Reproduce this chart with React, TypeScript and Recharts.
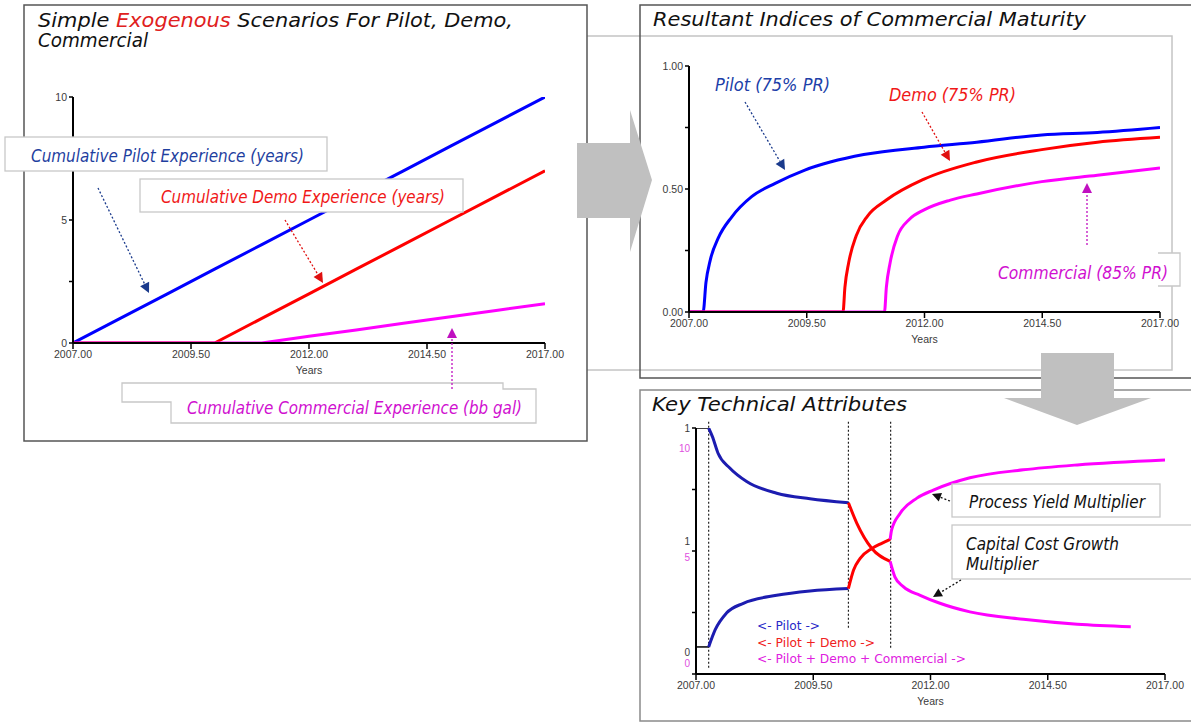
import React from 'react';
import { LineChart, Line, XAxis, YAxis, ReferenceLine } from 'recharts';

// ---- panel 1: simple exogenous experience scenarios
const expYears = [2007, 2008, 2009, 2010, 2011, 2012, 2013, 2014, 2015, 2016, 2017];
const pilotExp = [0, 1, 2, 3, 4, 5, 6, 7, 8, 9, 10];
const demoExp = [0, 0, 0, 0, 1, 2, 3, 4, 5, 6, 7];
const commercialExp = [0, 0, 0, 0, 0, 0.27, 0.53, 0.8, 1.07, 1.33, 1.6];

// ---- panel 2: indices of commercial maturity
const pilotIdxYears = [2007, 2007.3, 2007.36, 2007.45, 2007.62, 2007.91, 2008.33, 2008.83, 2009.46, 2010.71, 2011.99, 2013.11, 2014.49, 2015.67, 2017];
const pilotIdx = [0, 0, 0.12, 0.21, 0.3, 0.387, 0.469, 0.523, 0.577, 0.64, 0.67, 0.69, 0.72, 0.73, 0.75];
const demoIdxYears = [2007, 2010.27, 2010.31, 2010.39, 2010.55, 2010.79, 2011.19, 2011.99, 2013.11, 2014.49, 2015.67, 2017];
const demoIdx = [0, 0, 0.1, 0.2, 0.31, 0.39, 0.455, 0.54, 0.61, 0.66, 0.69, 0.71];
const commIdxYears = [2007, 2011.15, 2011.19, 2011.27, 2011.43, 2011.67, 2011.99, 2012.55, 2013.11, 2014.49, 2015.67, 2017];
const commIdx = [0, 0, 0.1, 0.2, 0.31, 0.375, 0.415, 0.455, 0.48, 0.53, 0.556, 0.585];

// ---- panel 3: key technical attributes (plot units 0..4)
const phaseStarts = [2007.27, 2010.25, 2011.15];
const phaseTops = [4.1, 4.1, 4.1];
const phaseBottoms = [0.07, 0.75, 0.42];
const preYears = [2007, 2007.27];
const preYield = [4, 4];
const preCost = [0.44, 0.44];
const costPilotYears = [2007.27, 2007.35, 2007.47, 2007.72, 2008.08, 2008.72, 2009.43, 2010.25];
const costPilot = [4.0, 3.86, 3.59, 3.35, 3.13, 2.94, 2.85, 2.785];
const costDemoYears = [2010.25, 2010.43, 2010.75, 2011.14];
const costDemo = [2.785, 2.45, 2.04, 1.83];
const costCommYears = [2011.14, 2011.24, 2011.42, 2011.78, 2012.2, 2012.84, 2013.98, 2015.13, 2016.27];
const costComm = [1.83, 1.58, 1.42, 1.28, 1.15, 1.01, 0.89, 0.81, 0.77];
const yieldPilotYears = [2007.27, 2007.41, 2007.65, 2008.01, 2008.72, 2009.43, 2010.25];
const yieldPilot = [0.44, 0.72, 0.99, 1.15, 1.28, 1.35, 1.39];
const yieldDemoYears = [2010.25, 2010.36, 2010.5, 2010.75, 2010.96, 2011.14];
const yieldDemo = [1.39, 1.69, 1.88, 2.04, 2.125, 2.19];
const yieldCommYears = [2011.14, 2011.17, 2011.35, 2011.71, 2012.06, 2012.84, 2013.98, 2015.13, 2017];
const yieldComm = [2.19, 2.34, 2.61, 2.86, 2.99, 3.19, 3.32, 3.4, 3.48];

const yearTicks = [2007, 2009.5, 2012, 2014.5, 2017];
const expTicks = [0, 2.5, 5, 7.5, 10];
const idxTicks = [0, 0.25, 0.5, 0.75, 1];
const techTicks = [0, 1, 2, 3, 4];

const BLUE = '#0000ff';
const RED = '#ff0000';
const MAG = '#ff00ff';
const NAVY = '#1c1cb0';

const rows = (xs: number[], ys: number[]) => xs.map((year, i) => ({ year, v: ys[i] }));

const tickFont = { fontSize: 10.5, fill: '#3a3a3a', fontFamily: 'Liberation Sans, Arial, sans-serif' };

const yearAxis = {
  type: 'number' as const,
  dataKey: 'year',
  domain: [2007, 2017],
  ticks: yearTicks,
  allowDataOverflow: true,
  tickFormatter: (v: number) => v.toFixed(2),
  axisLine: { stroke: '#000', strokeWidth: 2 },
  tickLine: { stroke: '#000', strokeWidth: 1.5 },
  tickSize: 6,
  tick: tickFont,
  height: 36,
  label: { value: 'Years', position: 'insideBottom' as const, offset: 5, ...tickFont },
};

const valueAxis = {
  type: 'number' as const,
  allowDataOverflow: true,
  axisLine: { stroke: '#000', strokeWidth: 2 },
  tickLine: { stroke: '#000', strokeWidth: 1.5 },
  tickSize: 4,
  tick: tickFont,
};

function TechTick(props: any) {
  const { x, y, payload } = props;
  const v = payload.value;
  const grey = '#3a3a3a';
  const pink = '#e050e0';
  const font = { fontSize: 10, fontFamily: 'Liberation Sans, Arial, sans-serif', textAnchor: 'end' as const };
  if (v === 4) {
    return (
      <g {...font}>
        <text x={x} y={y + 4} fill={grey}>1</text>
        <text x={x} y={y + 24} fill={pink}>10</text>
      </g>
    );
  }
  if (v === 2) {
    return (
      <g {...font}>
        <text x={x} y={y - 6} fill={grey}>1</text>
        <text x={x} y={y + 10} fill={pink}>5</text>
      </g>
    );
  }
  if (v === 0) {
    return (
      <g {...font}>
        <text x={x} y={y - 18} fill={grey}>0</text>
        <text x={x} y={y - 7} fill={pink}>0</text>
      </g>
    );
  }
  return null;
}

function DotArrow({ x1, y1, x2, y2, color, head = 10 }: any) {
  const dx = x2 - x1;
  const dy = y2 - y1;
  const len = Math.hypot(dx, dy);
  const ux = dx / len;
  const uy = dy / len;
  const bx = x2 - ux * head;
  const by = y2 - uy * head;
  const w = head * 0.5;
  return (
    <g>
      <line x1={x1} y1={y1} x2={bx} y2={by} stroke={color} strokeWidth={1.3} strokeDasharray="2 2" />
      <polygon points={`${x2},${y2} ${bx - uy * w},${by + ux * w} ${bx + uy * w},${by - ux * w}`} fill={color} />
    </g>
  );
}

const italic = { fontFamily: 'DejaVu Sans, Verdana, sans-serif', fontStyle: 'italic' as const };

export default function App() {
  const abs = (left: number, top: number, z: number): React.CSSProperties => ({ position: 'absolute', left, top, zIndex: z });

  return (
    <div style={{ position: 'absolute', left: 0, top: 0, width: 1191, height: 723, background: '#fff', overflow: 'hidden' }}>
      {/* frames and big grey arrows */}
      <svg width={1191} height={723} style={abs(0, 0, 0)}>
        <rect x={540} y={36} width={632} height={334} fill="none" stroke="#c4c4c4" strokeWidth={1.5} />
        <rect x={640} y={5} width={600} height={373} fill="none" stroke="#555" strokeWidth={1.5} />
        <rect x={640} y={390} width={600} height={331} fill="none" stroke="#8a8a8a" strokeWidth={1.5} />
        <rect x={24} y={5} width={563} height={436} fill="#fff" stroke="#555" strokeWidth={1.5} />
        <polygon points="577,143 630,143 630,110 652,180 630,252 630,218 577,218" fill="#c0c0c0" />
        <polygon points="1041,353 1114,353 1114,398 1151,398 1077,425 1004,398 1041,398" fill="#c0c0c0" />

        <text x={38} y={26.5} fontSize={19} fill="#111" textLength={475} lengthAdjust="spacingAndGlyphs" {...italic}>
          <tspan>Simple </tspan>
          <tspan fill="#e02020">Exogenous</tspan>
          <tspan> Scenarios For Pilot, Demo,</tspan>
        </text>
        <text x={38} y={47} fontSize={19} fill="#111" textLength={110} lengthAdjust="spacingAndGlyphs" {...italic}>Commercial</text>
        <text x={653} y={26} fontSize={20} fill="#111" textLength={433} lengthAdjust="spacingAndGlyphs" {...italic}>Resultant Indices of Commercial Maturity</text>
        <text x={652} y={411} fontSize={20} fill="#111" textLength={255} lengthAdjust="spacingAndGlyphs" {...italic}>Key Technical Attributes</text>
      </svg>

      {/* panel 1 chart */}
      <div style={abs(43, 87, 1)}>
        <LineChart width={522} height={292} margin={{ top: 10, right: 20, bottom: 0, left: 0 }}>
          <XAxis {...yearAxis} />
          <YAxis {...valueAxis} domain={[0, 10]} ticks={expTicks} width={30}
            tickFormatter={(v: number) => (v % 5 === 0 ? String(v) : '')} />
          <Line data={rows(expYears, pilotExp)} dataKey="v" type="linear" stroke={BLUE} strokeWidth={3} dot={false} isAnimationActive={false} />
          <Line data={rows(expYears, demoExp)} dataKey="v" type="linear" stroke={RED} strokeWidth={3} dot={false} isAnimationActive={false} />
          <Line data={rows(expYears, commercialExp)} dataKey="v" type="linear" stroke={MAG} strokeWidth={3} dot={false} isAnimationActive={false} />
        </LineChart>
      </div>

      {/* panel 2 chart */}
      <div style={abs(654, 56, 1)}>
        <LineChart width={526} height={292} margin={{ top: 10, right: 20, bottom: 0, left: 0 }}>
          <XAxis {...yearAxis} />
          <YAxis {...valueAxis} domain={[0, 1]} ticks={idxTicks} width={35}
            tickFormatter={(v: number) => (v === 0 || v === 0.5 || v === 1 ? v.toFixed(2) : '')} />
          <Line data={rows(pilotIdxYears, pilotIdx)} dataKey="v" type="monotone" stroke={BLUE} strokeWidth={3} dot={false} isAnimationActive={false} />
          <Line data={rows(demoIdxYears, demoIdx)} dataKey="v" type="monotone" stroke={RED} strokeWidth={3} dot={false} isAnimationActive={false} />
          <Line data={rows(commIdxYears, commIdx)} dataKey="v" type="monotone" stroke={MAG} strokeWidth={3} dot={false} isAnimationActive={false} />
        </LineChart>
      </div>

      {/* panel 3 chart */}
      <div style={abs(666, 418, 1)}>
        <LineChart width={519} height={292} margin={{ top: 10, right: 20, bottom: 0, left: 0 }}>
          <XAxis {...yearAxis} />
          <YAxis {...valueAxis} domain={[0, 4]} ticks={techTicks} width={30} tick={<TechTick />} />
          {phaseStarts.map((yr, i) => (
            <ReferenceLine key={yr} ifOverflow="visible" stroke="#222" strokeWidth={1.2} strokeDasharray="2 2"
              segment={[{ x: yr, y: phaseTops[i] }, { x: yr, y: phaseBottoms[i] }]} />
          ))}
          <Line data={rows(preYears, preYield)} dataKey="v" type="linear" stroke="#000" strokeWidth={1.5} dot={false} isAnimationActive={false} />
          <Line data={rows(preYears, preCost)} dataKey="v" type="linear" stroke="#000" strokeWidth={1.5} dot={false} isAnimationActive={false} />
          <Line data={rows(costPilotYears, costPilot)} dataKey="v" type="monotone" stroke={NAVY} strokeWidth={3} dot={false} isAnimationActive={false} />
          <Line data={rows(yieldPilotYears, yieldPilot)} dataKey="v" type="monotone" stroke={NAVY} strokeWidth={3} dot={false} isAnimationActive={false} />
          <Line data={rows(costDemoYears, costDemo)} dataKey="v" type="monotone" stroke={RED} strokeWidth={3} dot={false} isAnimationActive={false} />
          <Line data={rows(yieldDemoYears, yieldDemo)} dataKey="v" type="monotone" stroke={RED} strokeWidth={3} dot={false} isAnimationActive={false} />
          <Line data={rows(costCommYears, costComm)} dataKey="v" type="monotone" stroke={MAG} strokeWidth={3} dot={false} isAnimationActive={false} />
          <Line data={rows(yieldCommYears, yieldComm)} dataKey="v" type="monotone" stroke={MAG} strokeWidth={3} dot={false} isAnimationActive={false} />
        </LineChart>
      </div>

      {/* annotation boxes, labels, pointer arrows */}
      <svg width={1191} height={723} style={{ ...abs(0, 0, 2), pointerEvents: 'none' }}>
        <rect x={5} y={137} width={322} height={34} fill="#fff" stroke="#c8c8c8" strokeWidth={1.3} />
        <text x={31} y={162} fontSize={18} fill="#1f3f9f" textLength={273} lengthAdjust="spacingAndGlyphs" {...italic}>Cumulative Pilot Experience (years)</text>
        <rect x={140} y={179} width={323} height={33} fill="#fff" stroke="#c8c8c8" strokeWidth={1.3} />
        <text x={161} y={203} fontSize={18} fill="#f01818" textLength={284} lengthAdjust="spacingAndGlyphs" {...italic}>Cumulative Demo Experience (years)</text>
        <polygon points="122,383 503,383 503,389 536,389 536,423 171,423 171,402 122,402" fill="#fff" stroke="#c8c8c8" strokeWidth={1.3} />
        <text x={187} y={414} fontSize={18} fill="#d010d0" textLength={335} lengthAdjust="spacingAndGlyphs" {...italic}>Cumulative Commercial Experience (bb gal)</text>
        <DotArrow x1={98} y1={188} x2={149} y2={293} color="#1a3a8c" />
        <DotArrow x1={285} y1={220} x2={323} y2={283} color="#e01010" />
        <DotArrow x1={452} y1={389} x2={452} y2={328} color="#c010c0" />

        <text x={715} y={91} fontSize={17} fill="#2040a8" textLength={115} lengthAdjust="spacingAndGlyphs" {...italic}>Pilot (75% PR)</text>
        <text x={889} y={101} fontSize={17} fill="#f01818" textLength={127} lengthAdjust="spacingAndGlyphs" {...italic}>Demo (75% PR)</text>
        <rect x={1158} y={253} width={22} height={33} fill="#fff" />
        <path d="M1158,253 H1180 V286 H1158" fill="none" stroke="#c8c8c8" strokeWidth={1.3} />
        <text x={998} y={279} fontSize={17} fill="#d010d0" textLength={170} lengthAdjust="spacingAndGlyphs" {...italic}>Commercial (85% PR)</text>
        <DotArrow x1={745} y1={102} x2={785} y2={170} color="#1a3a8c" />
        <DotArrow x1={922} y1={112} x2={950} y2={161} color="#e01010" />
        <DotArrow x1={1087} y1={245} x2={1087} y2={183} color="#c010c0" />

        <rect x={952} y={484} width={208} height={33} fill="#fff" stroke="#c8c8c8" strokeWidth={1.3} />
        <text x={969} y={508} fontSize={17} fill="#111" textLength={176} lengthAdjust="spacingAndGlyphs" {...italic}>Process Yield Multiplier</text>
        <rect x={952} y={525} width={250} height={54} fill="#fff" stroke="#c8c8c8" strokeWidth={1.3} />
        <text x={966} y={550} fontSize={17} fill="#111" textLength={153} lengthAdjust="spacingAndGlyphs" {...italic}>Capital Cost Growth</text>
        <text x={966} y={570} fontSize={17} fill="#111" textLength={72} lengthAdjust="spacingAndGlyphs" {...italic}>Multiplier</text>
        <DotArrow x1={950} y1={501} x2={932} y2={494} color="#111" head={9} />
        <DotArrow x1={961} y1={580} x2={933} y2={597} color="#111" head={9} />

        <g fontFamily="DejaVu Sans, Verdana, sans-serif" fontSize={12.5}>
          <text x={757} y={630} fill="#2828c8" textLength={63} lengthAdjust="spacingAndGlyphs">{'<- Pilot ->'}</text>
          <text x={757} y={647} fill="#f02020" textLength={118} lengthAdjust="spacingAndGlyphs">{'<- Pilot + Demo ->'}</text>
          <text x={757} y={663} fill="#e020e0" textLength={209} lengthAdjust="spacingAndGlyphs">{'<- Pilot + Demo + Commercial ->'}</text>
        </g>
      </svg>
    </div>
  );
}
